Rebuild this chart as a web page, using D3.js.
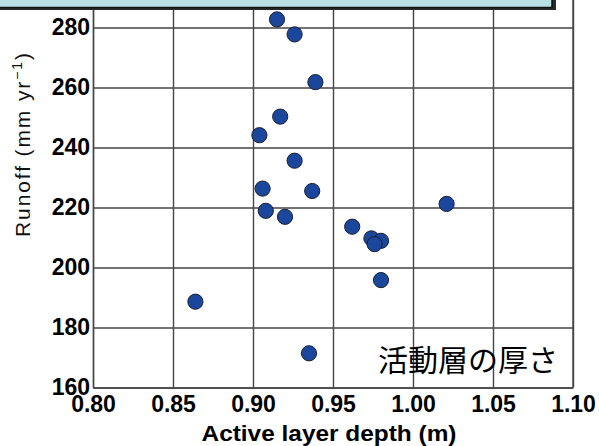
<!DOCTYPE html>
<html>
<head>
<meta charset="utf-8">
<script src="https://cdn.jsdelivr.net/npm/d3@7"></script>
<style>
  html, body { margin: 0; padding: 0; background: #fff; }
  svg { display: block; }
</style>
</head>
<body>
<svg id="chart"></svg>
<script>
// values
const depth  = [0.915, 0.926, 0.939, 0.917, 0.904, 0.926, 0.906, 0.937, 0.908,
                0.920, 0.962, 0.974, 0.980, 0.976, 1.021, 0.980, 0.864, 0.935];
const runoff = [282.7, 277.7, 261.8, 250.3, 244.1, 235.6, 226.3, 225.5, 218.9,
                216.9, 213.6, 209.7, 208.9, 207.8, 221.2, 195.8, 188.6, 171.4];
const xTicks = [0.80, 0.85, 0.90, 0.95, 1.00, 1.05, 1.10];
const yTicks = [160, 180, 200, 220, 240, 260, 280];

const W = 599, H = 446;
const plotL = 93, plotR = 573, plotB = 387.5, plotT = -32.5;

const svg = d3.select("#chart").attr("width", W).attr("height", H);

const x = d3.scaleLinear().domain([0.80, 1.10]).range([plotL, plotR]);
const y = d3.scaleLinear().domain([160, 300]).range([plotB, plotT]);

const gridColor = "#454545";
const tickFont = "'Liberation Sans', Arial, sans-serif";

// x grid + labels
const gx = svg.append("g")
  .attr("transform", `translate(0,${plotB})`)
  .call(d3.axisBottom(x).tickValues(xTicks).tickFormat(d3.format(".2f"))
    .tickSizeInner(-(plotB - plotT)).tickSizeOuter(0).tickPadding(8));
gx.select(".domain").attr("stroke", gridColor).attr("stroke-width", 1.4);
gx.selectAll(".tick line").attr("stroke", gridColor).attr("stroke-width", 1.4);
gx.selectAll(".tick text")
  .attr("font-family", tickFont).attr("font-weight", "bold")
  .attr("font-size", 23).attr("fill", "#000");

// y grid + labels
const gy = svg.append("g")
  .attr("transform", `translate(${plotL},0)`)
  .call(d3.axisLeft(y).tickValues(yTicks)
    .tickSizeInner(-(plotR - plotL)).tickSizeOuter(0).tickPadding(3));
gy.select(".domain").attr("stroke", gridColor).attr("stroke-width", 1.4);
gy.selectAll(".tick line").attr("stroke", gridColor).attr("stroke-width", 1.4);
gy.selectAll(".tick text")
  .attr("font-family", tickFont).attr("font-weight", "bold")
  .attr("font-size", 23).attr("fill", "#000");

// right frame
svg.append("line")
  .attr("x1", plotR).attr("x2", plotR)
  .attr("y1", y(300)).attr("y2", plotB)
  .attr("stroke", gridColor).attr("stroke-width", 1.4);

// points
svg.append("g")
  .selectAll("circle")
  .data(depth.map((d, i) => [d, runoff[i]]))
  .join("circle")
  .attr("cx", d => x(d[0]))
  .attr("cy", d => y(d[1]))
  .attr("r", 7.6)
  .attr("fill", "#1a479c")
  .attr("stroke", "#1b1f33")
  .attr("stroke-width", 1);

// japanese label
svg.append("text")
  .attr("x", 558).attr("y", 371)
  .attr("text-anchor", "end")
  .attr("font-family", "'Noto Sans CJK JP', sans-serif")
  .attr("font-size", 30)
  .attr("fill", "#000")
  .text("活動層の厚さ");

// axis titles
svg.append("text")
  .attr("x", 329).attr("y", 441)
  .attr("text-anchor", "middle")
  .attr("font-family", tickFont).attr("font-weight", "bold")
  .attr("font-size", 22)
  .attr("textLength", 255).attr("lengthAdjust", "spacingAndGlyphs")
  .attr("fill", "#000")
  .text("Active layer depth  (m)");

const yt = svg.append("text")
  .attr("transform", "translate(30,145) rotate(-90)")
  .attr("text-anchor", "middle")
  .attr("font-family", tickFont)
  .attr("font-size", 21)
  .attr("fill", "#111")
  .attr("textLength", 184).attr("lengthAdjust", "spacing");
yt.append("tspan").text("Runoff (mm yr");
yt.append("tspan").attr("font-size", 14).attr("dy", -8).text("\u22121");
yt.append("tspan").attr("dy", 8).text(")");

// banner cut off at the top
svg.append("rect")
  .attr("x", -10).attr("y", -40).attr("width", 566).attr("height", 50)
  .attr("fill", "#2a2a2a");
svg.append("rect")
  .attr("x", -10).attr("y", -40).attr("width", 562).attr("height", 47.5)
  .attr("fill", "#bbe0e3").attr("stroke", "#111").attr("stroke-width", 1.5);
</script>
</body>
</html>
